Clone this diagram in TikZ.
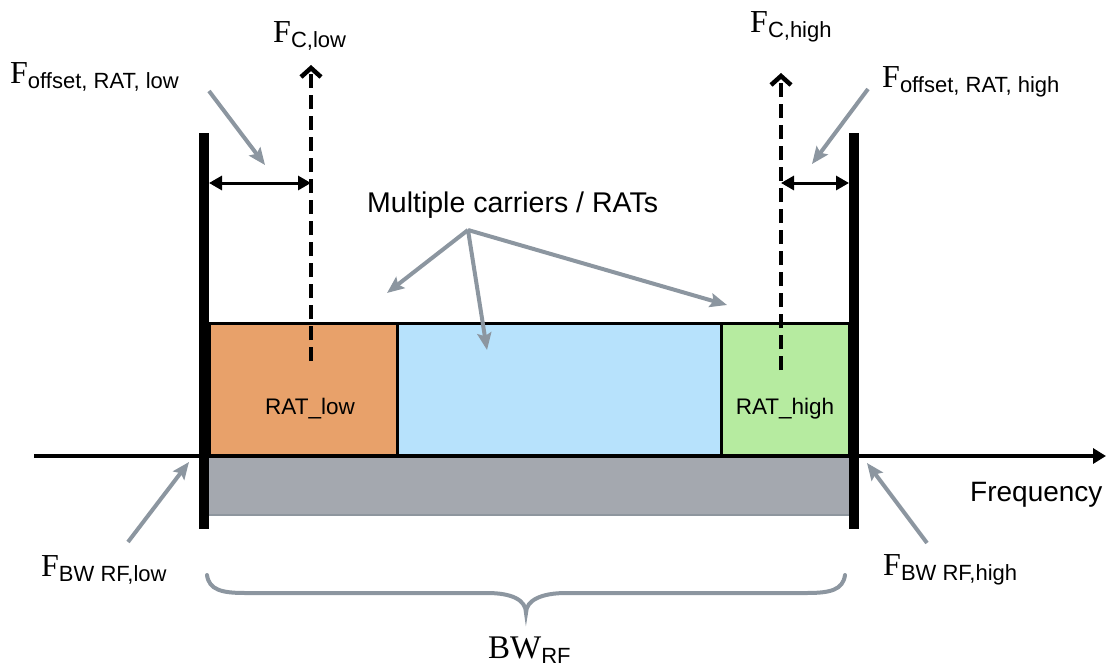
\documentclass[tikz,border=0pt]{standalone}
\usepackage{fontspec}
\setmainfont{Liberation Serif}
\setsansfont{Liberation Sans}
\usetikzlibrary{arrows.meta}
\definecolor{cgray}{RGB}{140,150,160}
\definecolor{bargray}{RGB}{164,168,175}
\definecolor{barline}{RGB}{142,150,158}
\definecolor{corange}{RGB}{232,161,106}
\definecolor{cblue}{RGB}{183,226,252}
\definecolor{cgreen}{RGB}{182,235,160}
\newcommand{\Flab}[1]{\fontsize{32}{32}\selectfont F\raisebox{-5pt}{\sffamily\fontsize{22}{22}\selectfont #1}}
\begin{document}
\begin{tikzpicture}[x=1pt,y=-1pt,
  lbl/.style={inner sep=0pt, anchor=base west},
  sflbl/.style={inner sep=0pt, font=\sffamily\fontsize{22.5}{22.5}\selectfont},
  garrow/.style={draw=cgray, line width=4pt, -{Stealth[length=17pt,width=14pt,inset=3pt]}},
  dasharrow/.style={line width=4.5pt, dash pattern=on 14pt off 7pt, -{Straight Barb[length=9pt,width=20pt]}},
  dimarrow/.style={line width=3pt, {Triangle[length=13pt,width=14pt]}-{Triangle[length=13pt,width=14pt]}},
  ratbox/.style={draw=black, line width=3pt},
  bar/.style={fill=black}]
\useasboundingbox (0,0) rectangle (1108,666);
% gray band
\fill[bargray] (209,456) rectangle (849,515);
\draw[barline, line width=2pt] (209,515) -- (849,515);
% RAT boxes
\draw[ratbox, fill=corange] (209,323) rectangle (397,456);
\draw[ratbox, fill=cblue] (397,323) rectangle (721,456);
\draw[ratbox, fill=cgreen] (721,323) rectangle (849,456);
\node[sflbl, anchor=base] (ratlow) at (310,414) {RAT\_low};
\node[sflbl, anchor=base] (rathigh) at (785,414) {RAT\_high};
% axis
\coordinate (axs) at (34,456);
\coordinate (axe) at (1106,456);
\draw[line width=3.5pt, -{Triangle[length=13pt,width=15pt]}] (axs) -- (axe);
\node[inner sep=0pt, anchor=base west, font=\sffamily\fontsize{28}{28}\selectfont] (freq) at (970,501) {Frequency};
% dashed carrier arrows
\coordinate (clb) at (311,361);
\coordinate (clt) at (311,65);
\coordinate (chb) at (781,370);
\coordinate (cht) at (781,73);
\draw[dasharrow] (clb) -- (clt);
\draw[dasharrow] (chb) -- (cht);
% bars
\fill[bar] (199,133) rectangle (209,529);
\fill[bar] (849,133) rectangle (859,529);
% offset dimension arrows
\coordinate (ol1) at (209,183);
\coordinate (ol2) at (311,183);
\coordinate (oh1) at (781,183);
\coordinate (oh2) at (849,183);
\draw[dimarrow] (ol1) -- (ol2);
\draw[dimarrow] (oh1) -- (oh2);
% labels
\node[lbl] (fcl) at (273,43) {\Flab{C,low}};
\node[lbl] (fch) at (750,33) {\Flab{C,high}};
\node[lbl] (fol) at (10,84) {\Flab{offset, RAT, low}};
\node[lbl] (foh) at (882,88) {\Flab{offset, RAT, high}};
\node[lbl] (fbl) at (41,576) {\Flab{BW RF,low}};
\node[lbl] (fbh) at (883,575) {\Flab{BW RF,high}};
\node[lbl] (bw) at (488,658) {\fontsize{33}{33}\selectfont BW\raisebox{-5pt}{\sffamily\fontsize{22}{22}\selectfont RF}};
\node[inner sep=0pt, anchor=base west, font=\sffamily\fontsize{28.5}{28.5}\selectfont] (multi) at (367,212) {Multiple carriers / RATs};
% gray pointer arrows
\coordinate (pol1) at (209,91);   \coordinate (pol2) at (265,165);
\coordinate (poh1) at (868,89);   \coordinate (poh2) at (812,164);
\coordinate (pbl1) at (128,542);  \coordinate (pbl2) at (189,462);
\coordinate (pbh1) at (927,543);  \coordinate (pbh2) at (867,463);
\coordinate (mo) at (468,230);
\coordinate (m1) at (387,293);
\coordinate (m2) at (487,350);
\coordinate (m3) at (727,305);
\draw[garrow] (pol1) -- (pol2);
\draw[garrow] (poh1) -- (poh2);
\draw[garrow] (pbl1) -- (pbl2);
\draw[garrow] (pbh1) -- (pbh2);
\draw[garrow] (mo) -- (m1);
\draw[garrow] (mo) -- (m2);
\draw[garrow] (mo) -- (m3);
% brace
\draw[cgray, line width=4pt, line cap=round]
  (207,575) .. controls (209,590) and (222,593) .. (245,593) -- (487,593)
  .. controls (512,593) and (526,600) .. (526,613)
  .. controls (526,600) and (542,593) .. (566,593) -- (807,593)
  .. controls (830,593) and (843,590) .. (845,575);
\end{tikzpicture}
\end{document}
